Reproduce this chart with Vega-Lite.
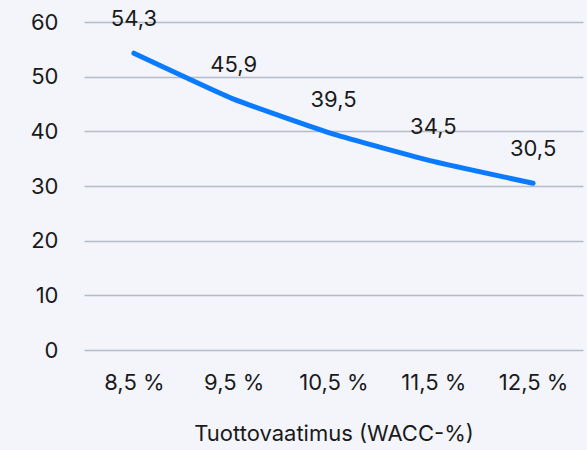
{
  "$schema": "https://vega.github.io/schema/vega-lite/v6.json",
  "autosize": "none",
  "width": 499,
  "height": 328,
  "padding": {"left": 84, "top": 22, "right": 4, "bottom": 100},
  "background": "#f4f5fa",
  "data": {"values": [
    {"wacc": "8,5 %", "value": 54.3, "label": "54,3"},
    {"wacc": "9,5 %", "value": 45.9, "label": "45,9"},
    {"wacc": "10,5 %", "value": 39.5, "label": "39,5"},
    {"wacc": "11,5 %", "value": 34.5, "label": "34,5"},
    {"wacc": "12,5 %", "value": 30.5, "label": "30,5"}
  ]},
  "config": {
    "view": {"stroke": null},
    "font": "Inter",
    "axis": {"labelFont": "Inter", "titleFont": "Inter", "labelColor": "#1a1a1a", "titleColor": "#1a1a1a"}
  },
  "encoding": {
    "x": {"field": "wacc", "type": "ordinal", "sort": null,
      "scale": {"type": "point", "padding": 0.5},
      "axis": {"title": "Tuottovaatimus (WACC-%)", "labelAngle": 0, "labelFontSize": 22, "titleFontSize": 22, "titleFontWeight": "normal", "domain": false, "ticks": false, "labelPadding": 22, "titlePadding": 30, "grid": false}},
    "y": {"field": "value", "type": "quantitative",
      "scale": {"domain": [0, 60], "nice": false},
      "axis": {"title": null, "values": [0,10,20,30,40,50,60], "labelFontSize": 22, "domain": false, "ticks": false, "labelPadding": 26, "grid": true, "gridColor": "#b4bbca", "gridWidth": 1.5}}
  },
  "layer": [
    {"mark": {"type": "line", "color": "#0a7bff", "strokeWidth": 5, "strokeCap": "round", "interpolate": "cardinal", "tension": 0.6}},
    {"mark": {"type": "text", "fontSize": 22, "dy": -34, "color": "#1a1a1a", "baseline": "middle"},
      "encoding": {"text": {"field": "label"}}}
  ]
}
